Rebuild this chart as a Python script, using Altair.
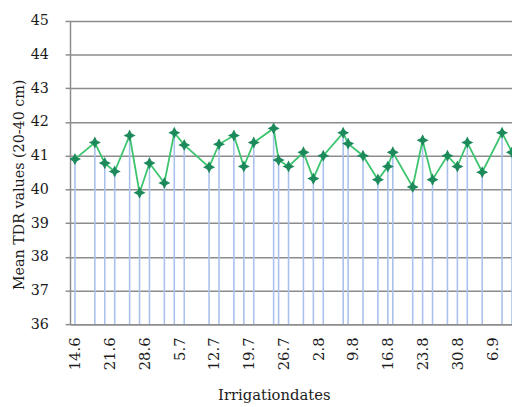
import altair as alt
import pandas as pd

# Irrigation dates (day.month) and mean TDR values (20-40 cm)
dates = [
    "2020-06-14", "2020-06-18", "2020-06-20", "2020-06-22", "2020-06-25",
    "2020-06-27", "2020-06-29", "2020-07-02", "2020-07-04", "2020-07-06",
    "2020-07-11", "2020-07-13", "2020-07-16", "2020-07-18", "2020-07-20",
    "2020-07-24", "2020-07-25", "2020-07-27", "2020-07-30", "2020-08-01",
    "2020-08-03", "2020-08-07", "2020-08-08", "2020-08-11", "2020-08-14",
    "2020-08-16", "2020-08-17", "2020-08-21", "2020-08-23", "2020-08-25",
    "2020-08-28", "2020-08-30", "2020-09-01", "2020-09-04", "2020-09-08",
    "2020-09-10",
]
values = [
    40.90, 41.39, 40.78, 40.53, 41.60,
    39.90, 40.78, 40.19, 41.68, 41.32,
    40.66, 41.34, 41.60, 40.68, 41.39,
    41.81, 40.87, 40.68, 41.10, 40.32,
    41.00, 41.68, 41.36, 41.00, 40.29,
    40.68, 41.10, 40.07, 41.46, 40.29,
    41.00, 40.68, 41.39, 40.51, 41.68,
    41.10,
]
tick_dates = [
    "2020-06-14", "2020-06-21", "2020-06-28", "2020-07-05", "2020-07-12",
    "2020-07-19", "2020-07-26", "2020-08-02", "2020-08-09", "2020-08-16",
    "2020-08-23", "2020-08-30", "2020-09-06",
]
x_domain = ["2020-06-13", "2020-09-10"]
y_ticks = [36, 37, 38, 39, 40, 41, 42, 43, 44, 45]


def ms(d):
    return int(pd.Timestamp(d).timestamp() * 1000)


df = pd.DataFrame({"date": dates, "tdr": values})

FONT = "DejaVu Serif"
GRID = "#8c8c8c"
TEXT = "#1a1a1a"

x_enc = alt.X(
    "date:T",
    scale=alt.Scale(type="utc", domain=[ms(d) for d in x_domain]),
    axis=alt.Axis(
        values=[ms(d) for d in tick_dates],
        labelExpr="utcFormat(datum.value, '%-d.%-m')",
        labelAngle=-90,
        labelAlign="right",
        labelBaseline="middle",
        labelPadding=13,
        labelFont=FONT,
        labelFontSize=15,
        labelColor=TEXT,
        labelOverlap=False,
        ticks=False,
        grid=False,
        domainColor=GRID,
        domainWidth=1.5,
        title="Irrigationdates",
        titleFont=FONT,
        titleFontSize=15,
        titleFontWeight="normal",
        titleColor=TEXT,
        titleX=207,
        titleY=77,
        titleAlign="center",
        titleBaseline="alphabetic",
    ),
)

y_enc = alt.Y(
    "tdr:Q",
    scale=alt.Scale(domain=[36, 45], nice=False, zero=False),
    axis=alt.Axis(
        values=y_ticks,
        grid=True,
        gridColor=GRID,
        gridWidth=1.5,
        domainColor=GRID,
        domainWidth=1.5,
        tickColor=GRID,
        tickSize=5,
        tickWidth=1.5,
        labelPadding=17,
        labelFont=FONT,
        labelFontSize=14.5,
        labelColor=TEXT,
        title="Mean TDR values (20-40 cm)",
        titleFont=FONT,
        titleFontSize=14.5,
        titleFontWeight="normal",
        titleColor=TEXT,
        titleAngle=270,
        titleX=-51,
        titleY=166,
        titleAlign="center",
        titleBaseline="middle",
    ),
)

base = alt.Chart(df)

drops = base.mark_rule(color="#a9c1ec", strokeWidth=1.6, clip=True).encode(
    x=x_enc, y=y_enc, y2=alt.datum(36)
)

line = base.mark_line(color="#3cc46e", strokeWidth=1.8, clip=True).encode(
    x=x_enc, y=y_enc
)

star = "M0,-1L0.34,-0.34L1,0L0.34,0.34L0,1L-0.34,0.34L-1,0L-0.34,-0.34Z"
points = base.mark_point(
    shape=star, filled=True, size=150, color="#1d8a5c", opacity=1, clip=True
).encode(x=x_enc, y=y_enc)

chart = (
    alt.layer(drops, line, points)
    .properties(
        width=449,
        height=308,
        autosize=alt.AutoSizeParams(type="none"),
        padding={"left": 63, "top": 10, "right": 0, "bottom": 81},
    )
    .configure_view(stroke=None)
)

chart.save("out.html", embed_options={"renderer": "svg", "actions": False})
